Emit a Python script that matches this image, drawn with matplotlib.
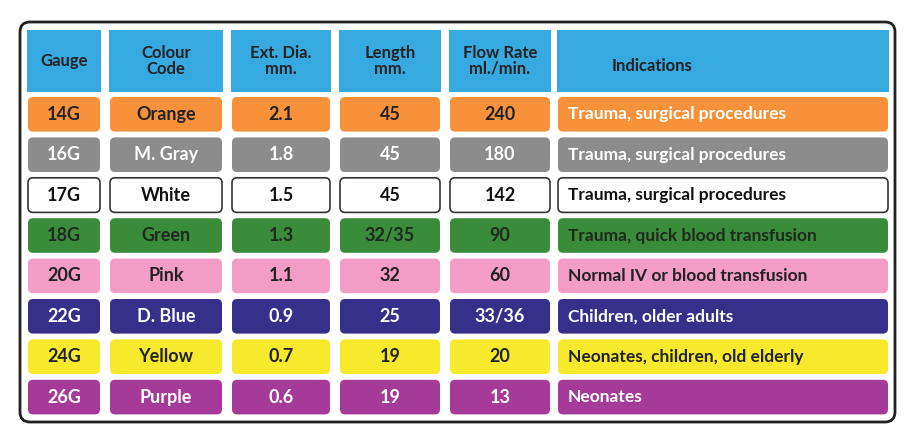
import matplotlib
matplotlib.use("Agg")
import matplotlib.pyplot as plt
from matplotlib.patches import FancyBboxPatch, Rectangle

headers = ["Gauge", "Colour\nCode", "Ext. Dia.\nmm.", "Length\nmm.", "Flow Rate\nml./min.", "Indications"]
gauges = ["14G", "16G", "17G", "18G", "20G", "22G", "24G", "26G"]
colour_names = ["Orange", "M. Gray", "White", "Green", "Pink", "D. Blue", "Yellow", "Purple"]
ext_dia = ["2.1", "1.8", "1.5", "1.3", "1.1", "0.9", "0.7", "0.6"]
lengths = ["45", "45", "45", "32/35", "32", "25", "19", "19"]
flow_rates = ["240", "180", "142", "90", "60", "33/36", "20", "13"]
indications = ["Trauma, surgical procedures", "Trauma, surgical procedures",
               "Trauma, surgical procedures", "Trauma, quick blood transfusion",
               "Normal IV or blood transfusion", "Children, older adults",
               "Neonates, children, old elderly", "Neonates"]

fills = ["#f7923a", "#8c8c8c", "#ffffff", "#3a8c3a", "#f29cc6", "#37308a", "#f7e92c", "#a53a98"]
text_main = ["#222222", "white", "#111111", "#1e2a1e", "#222222", "white", "#222222", "white"]
text_ind = ["white", "white", "#111111", "#1e2a1e", "#222222", "white", "#222222", "white"]

# column spans in pixels
cols = [(27, 101), (109, 223), (231, 331), (339, 441), (449, 551), (557, 889)]
head_y = (30, 92)
row_top, row_h, row_gap = 96, 36.6, 3.8

fig = plt.figure(figsize=(9.07, 4.29), dpi=100)
ax = fig.add_axes([0, 0, 1, 1])
ax.set_xlim(0, 907)
ax.set_ylim(429, 0)
ax.axis("off")

ax.add_patch(FancyBboxPatch((20, 22), 875, 400, boxstyle="round,pad=0,rounding_size=10",
                            fc="white", ec="#222222", lw=2))

for j, (x0, x1) in enumerate(cols):
    ax.add_patch(Rectangle((x0, head_y[0]), x1 - x0, head_y[1] - head_y[0], fc="#36a9e1", ec="none"))
    if j == 5:
        ax.text(x0 + 55, 66, headers[j], ha="left", va="center", fontsize=12,
                fontweight="bold", color="#222222", family="Lato")
    else:
        ax.text((x0 + x1) / 2, 61, headers[j], ha="center", va="center", fontsize=12,
                fontweight="bold", color="#222222", family="Lato", linespacing=0.95)

for i in range(len(gauges)):
    y0 = row_top + i * (row_h + row_gap)
    vals = [gauges[i], colour_names[i], ext_dia[i], lengths[i], flow_rates[i], indications[i]]
    for j, (x0, x1) in enumerate(cols):
        ec = "#333333" if fills[i] == "#ffffff" else "none"
        ax.add_patch(FancyBboxPatch((x0 + 1, y0 + 1), x1 - x0 - 2, row_h - 2,
                                    boxstyle="round,pad=0,rounding_size=5",
                                    fc=fills[i], ec=ec, lw=1.2))
        if j == 5:
            ax.text(x0 + 11, y0 + row_h / 2, vals[j], ha="left", va="center", fontsize=12.5,
                    fontweight="bold", color=text_ind[i], family="Lato")
        else:
            ax.text((x0 + x1) / 2, y0 + row_h / 2, vals[j], ha="center", va="center",
                    fontsize=13, fontweight="bold", color=text_main[i], family="Lato")

fig.savefig("out.png", dpi=100)
